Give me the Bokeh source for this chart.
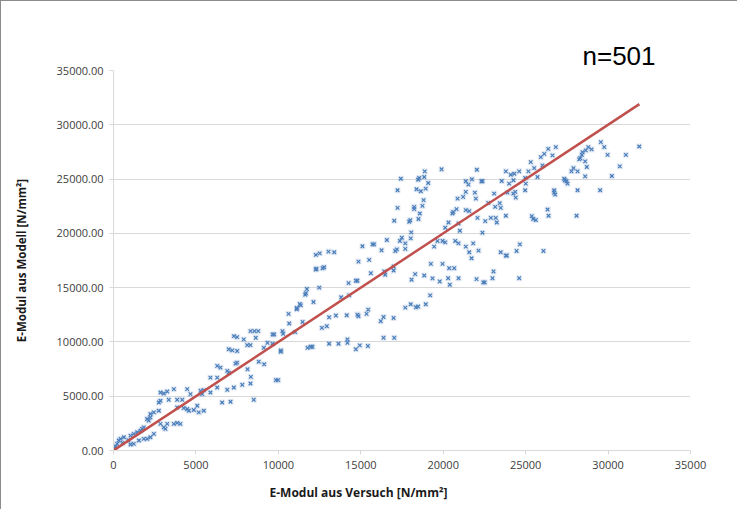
from bokeh.plotting import figure
from bokeh.models import Range1d, FixedTicker, NumeralTickFormatter, BasicTickFormatter, Title
from bokeh.embed import file_html
from bokeh.resources import INLINE

# E-Modul aus Versuch [N/mm²] (x) and E-Modul aus Modell [N/mm²] (y)
versuch = [
    8310, 8550, 8780, 7300, 7500, 7900, 8110, 8310, 6990, 7200, 7500, 9120, 7500, 7400, 8810,
    6290, 6490, 6900, 6990, 5880, 6290, 6290, 6900, 7300, 7810, 8310, 6590, 7100, 8510, 5480,
    5880, 2850, 3050, 3260, 3660, 4470, 4670, 5280, 5380, 2750, 2850, 3350, 3860, 4170, 5080,
    4870, 5170, 5480, 4470, 4570, 2240, 2450, 2750, 2040, 2140, 2240, 1840, 1740, 1640, 2850,
    3260, 3660, 3860, 4060, 3050, 3150, 2450, 2240, 2040, 1840, 1540, 1440, 1230, 1030, 630,
    430, 320, 220, 120, 1230, 1030, 3860, 4260, 60, 550, 900,
    8630, 9340, 9650, 8130, 9140, 10150, 9850, 9990, 8330, 9650, 10150, 9750, 10250, 10290,
    10620, 10660, 11020, 11120, 11120, 11300, 11360, 11470, 12130, 11630, 11670, 11730, 12480,
    12270, 12310, 12680, 12780, 12270, 12510, 13040, 13390, 11770, 11970, 12070, 13080, 13650,
    14190, 14190, 14700, 14940, 15430, 12640, 12940, 13080, 13490, 14150, 14800, 14860, 15350,
    15450, 13810, 14300, 14260, 14700, 14800, 15610, 14860, 15510, 15100, 15710, 15810, 16260,
    16580, 17090, 17190, 16210, 16380, 16990, 16380, 17030, 16420, 16480, 16990, 16990, 17700,
    18030, 18340, 18480, 18940, 19210, 18080, 18300, 18850, 19350, 19790, 20300, 20400, 19250,
    19960, 19450, 19650, 19960, 20120, 20120, 20320, 20560, 20360,
    19900, 18880, 18850, 18540, 18480, 17430, 19090, 18940, 18640, 18380, 17230, 18810, 18740,
    18580, 18240, 18240, 18500, 18000, 17940, 17230, 17030, 18060, 18030, 17700, 17700, 17490,
    17370,
    31890, 29560, 29770, 29970, 31080, 30710, 30230, 28800, 29000, 28650, 28450, 28410, 28310,
    28250, 28610, 28710, 28610, 27900, 27780, 28150, 27340, 27380, 27540, 27480, 28150, 29520,
    28090, 26830, 26370, 26630, 26130, 25920, 26020, 25520, 25720, 25310, 25170, 24970, 25010,
    24970, 26730, 26790, 26730, 26330, 26390, 25370, 25460, 25620, 24610, 24310, 24260, 24000,
    24100, 23800, 23550, 23900, 24250, 24370, 24400, 23090, 23430, 23490, 23150, 22730, 23800,
    23190, 23250, 22890, 22550, 22380, 22040, 22320, 22380, 21740, 21530, 21370, 21370, 21920,
    21980, 21210, 20870, 20810, 20610, 21370, 21580, 20930, 22080, 21010, 20730, 20930, 21370,
    21820, 21580, 21720, 22140, 23490, 23800, 23860, 24650, 24450, 26080, 20670, 20930, 22020,
    22430, 22520, 22990, 23050, 24610,
]
modell = [
    10990, 10990, 10990, 10530, 10440, 10230, 9710, 9710, 9320, 9220, 9160, 9460, 8090, 8000, 8180,
    7790, 7630, 7330, 7170, 6710, 6710, 5800, 5590, 5800, 6050, 6170, 4420, 4490, 4670, 5560,
    5340, 5340, 5250, 5430, 5650, 5650, 5190, 5500, 5190, 4420, 4580, 4670, 4670, 4670, 4120,
    3730, 3510, 3660, 3820, 3660, 3360, 3510, 3660, 2900, 2750, 3050, 2130, 1990, 1830, 2450,
    2450, 2450, 2540, 2450, 2130, 1990, 1530, 1220, 1070, 1070, 920, 1680, 1530, 1370, 1220,
    1070, 920, 610, 370, 610, 550, 3970, 3910, 180, 700, 950,
    10380, 9920, 10690, 7480, 7940, 9100, 6480, 6480, 6780, 9830, 9220, 10690, 10990, 10750,
    12580, 11700, 10900, 13130, 13010, 13490, 13370, 11840, 13680, 14350, 14500, 14870, 15000,
    16670, 16740, 16790, 16880, 18020, 18160, 18320, 18260, 9460, 9550, 9550, 9830, 9830,
    10230, 9920, 9320, 9680, 9620, 11290, 11450, 12270, 12430, 12460, 12520, 12370, 12580,
    12980, 14110, 14290, 15420, 15640, 15640, 16330, 17400, 17560, 18810, 18990, 18990, 18440,
    19390, 18380, 18530, 11910, 12300, 12210, 10380, 10380, 16490, 16190, 16950, 16580, 13160,
    13470, 13190, 13260, 13470, 14290, 15730, 16240, 16120, 15850, 15570, 15870, 15270, 17190,
    17190, 18780, 19300, 19300, 19170, 20520, 21000, 21830, 16790,
    25900, 25710, 25190, 25100, 24940, 25030, 24640, 24120, 23880, 24060, 23970, 23060, 22530,
    21830, 22440, 22230, 21320, 21220, 21070, 22350, 21160, 20090, 19540, 19080, 18570, 19600,
    19300,
    28000, 28400, 27940, 27230, 27230, 26170, 25280, 27940, 27730, 27640, 27480, 27230, 26930,
    26810, 26630, 26110, 25250, 26010, 25710, 25710, 25030, 24890, 24580, 24800, 23970, 23970,
    21620, 27940, 27780, 27180, 27320, 27020, 26260, 26010, 25190, 26560, 25710, 25100, 24580,
    23970, 23970, 23570, 23750, 22200, 21620, 21590, 21320, 21220, 25710, 25490, 24890, 24580,
    25400, 25710, 24820, 23750, 23660, 23820, 23290, 23660, 22780, 22350, 22440, 22810, 21620,
    21430, 21000, 21430, 21130, 20060, 25860, 24800, 24800, 24980, 24490, 24800, 23820, 23750,
    23200, 23360, 23200, 22230, 21980, 22140, 22050, 20910, 21430, 20240, 19300, 19080, 18780,
    19080, 18260, 17710, 18410, 18260, 17950, 17950, 18990, 18380, 18380, 16790, 15870, 15780,
    15480, 15480, 15870, 16490, 15870,
]

# reference line (Modell = Versuch)
line_x = [0, 31900]
line_y = [0, 31900]

x_ticks = [0, 5000, 10000, 15000, 20000, 25000, 30000, 35000]
y_ticks = [0, 5000, 10000, 15000, 20000, 25000, 30000, 35000]

p = figure(
    width=737, height=509,
    x_range=Range1d(0, 35000), y_range=Range1d(0, 35000),
    output_backend="svg", toolbar_location=None,
    min_border_left=112, min_border_right=48, min_border_top=69, min_border_bottom=58,
    background_fill_color="white", border_fill_color="white",
    outline_line_color=None,
    styles={"border-left": "1px solid #8c8c8c", "border-top": "1px solid #8c8c8c"},
)

p.xaxis.ticker = FixedTicker(ticks=x_ticks)
p.yaxis.ticker = FixedTicker(ticks=y_ticks)
p.xaxis.formatter = BasicTickFormatter(use_scientific=False)
p.yaxis.formatter = NumeralTickFormatter(format="0.00")

for ax in (p.xaxis[0], p.yaxis[0]):
    ax.axis_line_color = "#d9d9d9"
    ax.major_tick_line_color = "#d9d9d9"
    ax.minor_tick_line_color = None
    ax.major_tick_out = 4
    ax.major_tick_in = 0
    ax.major_label_text_font = "Open Sans"
    ax.major_label_text_font_size = "11px"
    ax.major_label_text_color = "#404040"
    ax.major_label_standoff = 6

p.xgrid.grid_line_color = None
p.ygrid.grid_line_color = "#d9d9d9"
p.ygrid.grid_line_width = 1

p.yaxis.axis_label = "E-Modul aus Modell [N/mm²]"
p.yaxis.axis_label_text_font = "Open Sans"
p.yaxis.axis_label_text_font_style = "bold"
p.yaxis.axis_label_text_font_size = "11.5px"
p.yaxis.axis_label_text_color = "#1a1a1a"
p.yaxis.axis_label_standoff = 25

p.scatter(versuch, modell, marker="square", size=6, fill_color="#4f81bd", fill_alpha=0.15,
          line_color=None)
p.scatter(versuch, modell, marker="x", size=5, line_color="#4a7ebb", line_width=1.2)
p.line(line_x, line_y, line_color="#c0504d", line_width=2.5)

p.add_layout(Title(text="E-Modul aus Versuch [N/mm²]", align="left", offset=156,
                   text_font="Open Sans", text_font_style="bold", text_font_size="12px",
                   text_color="#1a1a1a", standoff=20), "below")
p.add_layout(Title(text="n=501", align="left", offset=469,
                   text_font="Liberation Sans", text_font_style="normal",
                   text_font_size="26px", text_color="#000000", standoff=0), "above")

open("out.html", "w").write(file_html(p, INLINE))
